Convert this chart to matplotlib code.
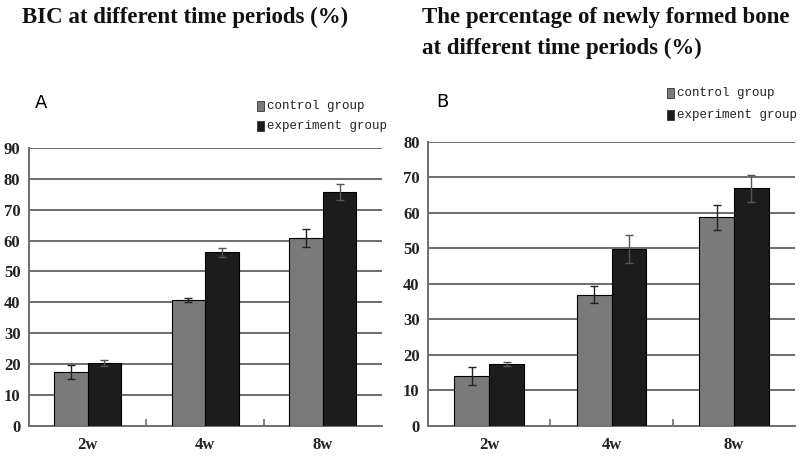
import numpy as np
import matplotlib.pyplot as plt

# data
weeks = ['2w', '4w', '8w']
bic_control = [17.5, 40.7, 60.9]
bic_control_err = [2.2, 0.6, 3.0]
bic_exp = [20.3, 56.2, 75.8]
bic_exp_err = [1.0, 1.5, 2.5]

bone_control = [14.1, 37.0, 58.8]
bone_control_err = [2.5, 2.5, 3.5]
bone_exp = [17.4, 49.8, 67.0]
bone_exp_err = [0.5, 4.0, 3.8]

ctrl_color = '#7a7a7a'
exp_color = '#1c1c1c'
grid_color = '#6e6e6e'
serif = 'Liberation Serif'
mono = 'Liberation Mono'

fig = plt.figure(figsize=(8, 4.58), dpi=100)
axA = fig.add_axes([0.036, 0.070, 0.441, 0.607])
axB = fig.add_axes([0.535, 0.070, 0.459, 0.620])


def draw_panel(ax, ctrl, ctrl_err, exp, exp_err, ymax):
    x = np.arange(len(weeks))
    w = 0.285
    ax.bar(x - w / 2, ctrl, w, color=ctrl_color, edgecolor='black', linewidth=0.8, zorder=3)
    ax.bar(x + w / 2, exp, w, color=exp_color, edgecolor='black', linewidth=0.8, zorder=3)
    ax.errorbar(x - w / 2, ctrl, yerr=ctrl_err, fmt='none', ecolor='#222222',
                elinewidth=1, capsize=3, capthick=1, zorder=4)
    ax.errorbar(x + w / 2, exp, yerr=exp_err, fmt='none', ecolor='#555555',
                elinewidth=1, capsize=3, capthick=1, zorder=4)
    ax.set_xlim(-0.5, 2.5)
    ax.set_ylim(0, ymax)
    ax.set_yticks(np.arange(0, ymax + 1, 10))
    for yv in np.arange(10, ymax + 1, 10):
        ax.axhline(yv, color=grid_color, linewidth=1.4, zorder=1)
    ax.set_xticks(x)
    ax.set_xticklabels(weeks)
    ax.set_xticks([0.5, 1.5], minor=True)
    ax.tick_params(axis='x', which='major', length=0, pad=8)
    ax.tick_params(axis='x', which='minor', length=5, direction='in', color=grid_color, width=1.2)
    ax.tick_params(axis='y', length=0, pad=6)
    for lab in ax.get_xticklabels() + ax.get_yticklabels():
        lab.set_fontfamily(serif)
        lab.set_fontweight('bold')
        lab.set_fontsize(12)
        lab.set_color('#222222')
    for s in ['top', 'right']:
        ax.spines[s].set_visible(False)
    for s in ['left', 'bottom']:
        ax.spines[s].set_color(grid_color)
        ax.spines[s].set_linewidth(1.4)


draw_panel(axA, bic_control, bic_control_err, bic_exp, bic_exp_err, 90)
draw_panel(axB, bone_control, bone_control_err, bone_exp, bone_exp_err, 80)

# titles
fig.text(22 / 800, 1 - 17 / 458, 'BIC at different time periods (%)', family=serif,
         fontweight='bold', fontsize=16.5, va='center', ha='left', color='#111111')
fig.text(422 / 800, 1 - 17 / 458, 'The percentage of newly formed bone', family=serif,
         fontweight='bold', fontsize=16.5, va='center', ha='left', color='#111111')
fig.text(422 / 800, 1 - 48 / 458, 'at different time periods (%)', family=serif,
         fontweight='bold', fontsize=16.5, va='center', ha='left', color='#111111')

# panel letters
fig.text(35 / 800, 1 - 103 / 458, 'A', fontsize=13, va='center', ha='left')
fig.text(436 / 800, 1 - 102 / 458, 'B', fontsize=13, va='center', ha='left')

# legends
def legend(x0, y0, dy):
    for i, (lab, col) in enumerate([('control group', ctrl_color), ('experiment group', exp_color)]):
        yc = y0 + i * dy
        fig.patches.append(plt.Rectangle((x0 / 800, 1 - (yc + 5) / 458), 7 / 800, 10 / 458,
                                         transform=fig.transFigure, facecolor=col,
                                         edgecolor='#333333', linewidth=0.6))
        fig.text((x0 + 10) / 800, 1 - yc / 458, lab, family=mono, fontsize=9,
                 va='center', ha='left', color='#222222')


legend(257, 106, 20)
legend(667, 93, 22)

fig.savefig('out.png', dpi=100)
